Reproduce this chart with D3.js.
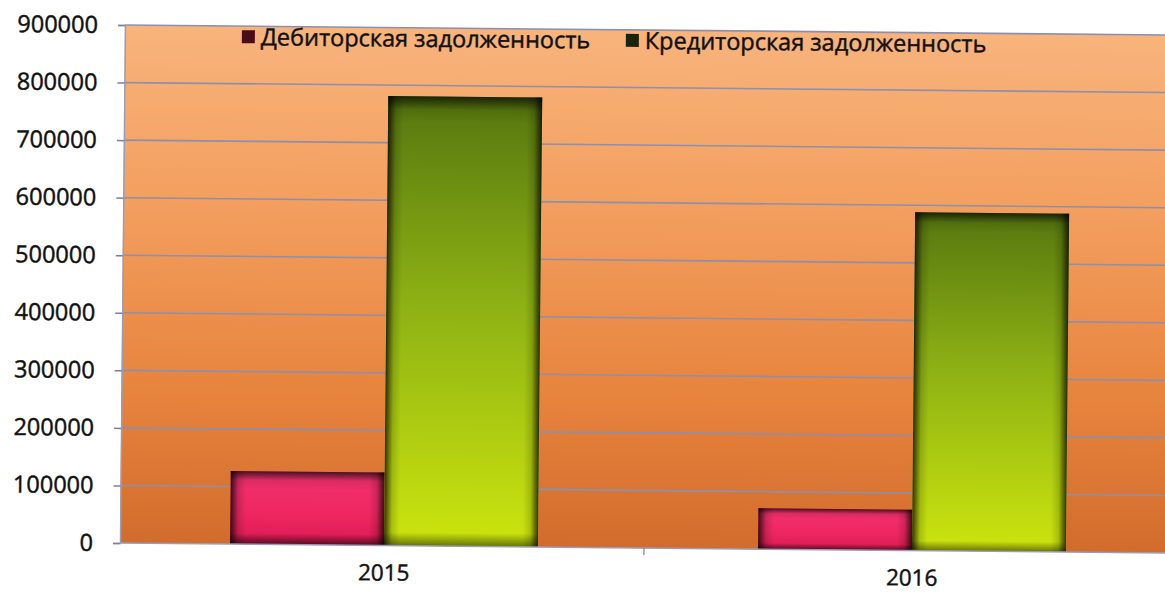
<!DOCTYPE html>
<html><head><meta charset="utf-8">
<script src="https://cdn.jsdelivr.net/npm/d3@7"></script>
<style>body{margin:0;background:#fff}svg{display:block}</style>
</head><body>
<svg id="c" width="1165" height="594"></svg>
<script>
const categories = ["2015", "2016"];
const seriesNames = ["Дебиторская задолженность", "Кредиторская задолженность"];
const debitValues = [127000, 71000];
const creditValues = [781000, 588000];
const yTicks = [0, 100000, 200000, 300000, 400000, 500000, 600000, 700000, 800000, 900000];

const m = {left: 120, top: 25};
const pw = 1056, ph = 518;
const svg = d3.select("#c");
const defs = svg.append("defs");

function lg(id, x2, y2, stops) {
  const g = defs.append("linearGradient").attr("id", id).attr("x1", 0).attr("y1", 0).attr("x2", x2).attr("y2", y2);
  stops.forEach(s => g.append("stop").attr("offset", s[0]).attr("stop-color", s[1]).attr("stop-opacity", s[2] == null ? 1 : s[2]));
}
lg("bg", 0, 1, [[0, "#f8b47c"], [0.35, "#f39e5e"], [0.7, "#e7843e"], [1, "#d26c2c"]]);
lg("gr", 0, 1, [[0, "#56760f"], [0.45, "#8cb014"], [1, "#cce50e"]]);
lg("rd", 0, 1, [[0, "#f23270"], [0.6, "#ee2660"], [1, "#da1a52"]]);
lg("edgeH", 1, 0, [[0, "#000", 0.75], [0.05, "#000", 0.15], [0.1, "#000", 0], [0.9, "#000", 0], [0.95, "#000", 0.15], [1, "#000", 0.75]]);
lg("edgeV", 0, 1, [[0, "#000", 0.7], [0.03, "#000", 0.1], [0.06, "#000", 0], [0.97, "#000", 0], [1, "#000", 0.5]]);
lg("edgeVr", 0, 1, [[0, "#000", 0.7], [0.12, "#000", 0.1], [0.25, "#000", 0], [0.85, "#000", 0], [1, "#000", 0.6]]);

const g = svg.append("g").attr("transform", `rotate(0.55, ${m.left}, ${m.top + ph}) translate(${m.left},${m.top})`);

const y = d3.scaleLinear().domain([0, 900000]).range([ph, 0]);
const x0 = d3.scaleBand().domain(categories).range([0, pw]).paddingInner(0.417).paddingOuter(0.2085);
const x1 = d3.scaleBand().domain(seriesNames).range([0, x0.bandwidth()]);

g.append("rect").attr("x", 0).attr("y", 0).attr("width", pw + 20).attr("height", ph).attr("fill", "url(#bg)");

// gridlines
g.append("g").selectAll("line").data(yTicks.filter(d => d > 0)).join("line")
  .attr("x1", 0).attr("x2", pw + 20).attr("y1", d => y(d)).attr("y2", d => y(d))
  .attr("stroke", "#8d8fae").attr("stroke-width", 1.6);

const txt = sel => sel.attr("font-family", "Open Sans").attr("fill", "#111").attr("stroke", "#111").attr("stroke-width", 0.45);

// y axis
const ya = g.append("g").call(d3.axisLeft(y).tickValues(yTicks).tickSize(7).tickPadding(20).tickFormat(d3.format("d")));
ya.select(".domain").attr("stroke", "#9a9cb8").attr("stroke-width", 1.5);
ya.selectAll(".tick line").attr("stroke", "#7d7f9c").attr("stroke-width", 1.5);
ya.selectAll("text").call(txt).attr("font-size", 23.5);

const series = [
  {name: seriesNames[0], values: debitValues, fill: "url(#rd)", edgeV: "url(#edgeVr)"},
  {name: seriesNames[1], values: creditValues, fill: "url(#gr)", edgeV: "url(#edgeV)"}
];

series.forEach(s => {
  const bars = g.append("g").selectAll("g").data(categories.map((c, i) => ({c, v: s.values[i]}))).join("g");
  const bx = d => x0(d.c) + x1(s.name);
  ["fill", "edgeH", "edgeV"].forEach(k => {
    bars.append("rect").attr("x", bx).attr("y", d => y(d.v)).attr("width", x1.bandwidth()).attr("height", d => ph - y(d.v))
      .attr("fill", k === "fill" ? s.fill : k === "edgeH" ? "url(#edgeH)" : s.edgeV);
  });
});

// x axis
const xa = g.append("g").attr("transform", `translate(0,${ph})`)
  .call(d3.axisBottom(x0).tickSize(0).tickPadding(19));
xa.select(".domain").remove();
g.append("line").attr("x1", 0).attr("x2", pw + 20).attr("y1", ph).attr("y2", ph).attr("stroke", "#9a9cb8").attr("stroke-width", 1.5);
g.append("line").attr("x1", x0.step() - 4).attr("x2", x0.step() - 4).attr("y1", ph).attr("y2", ph + 7).attr("stroke", "#7d7f9c").attr("stroke-width", 1.2);
xa.selectAll("text").call(txt).attr("font-size", 22.5);

// legend
const legend = g.append("g");
const legItems = [{name: seriesNames[0], color: "#4a0c16", x: 117}, {name: seriesNames[1], color: "#18240c", x: 501}];
legItems.forEach(it => {
  legend.append("rect").attr("x", it.x).attr("y", 4).attr("width", 13).attr("height", 13).attr("fill", it.color);
  legend.append("text").attr("x", it.x + 19).attr("y", 19).call(txt).attr("font-size", 23.5).text(it.name);
});
</script>
</body></html>
